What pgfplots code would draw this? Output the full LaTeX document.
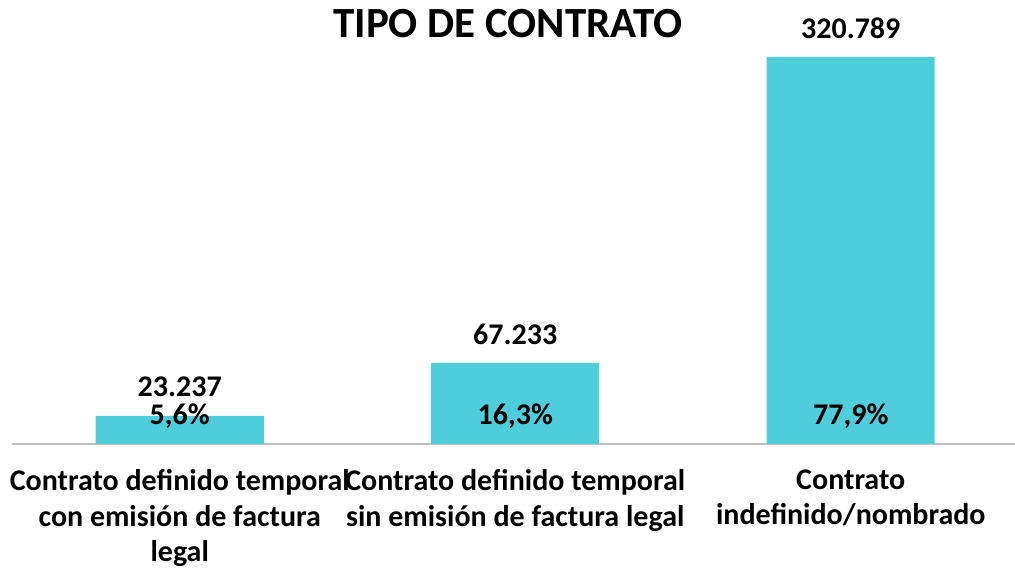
\documentclass[border=0pt]{standalone}
\usepackage{pgfplots}
\pgfplotsset{compat=1.18}
\usepackage{fontspec}
\setmainfont{Carlito}
\definecolor{barc}{RGB}{78,205,219}
\definecolor{axc}{RGB}{191,191,191}
\begin{document}
\begin{tikzpicture}
\useasboundingbox (-12pt,-125pt) rectangle (1003pt,444pt);
\begin{axis}[
  at={(0pt,0pt)}, anchor=south west,
  scale only axis,
  width=1006.5pt, height=444pt,
  xmin=-0.5, xmax=2.5, ymin=0, ymax=368040,
  axis y line=none,
  axis x line*=bottom,
  x axis line style={draw=axc, line width=1.5pt, -},
  xtick=data,
  xtick style={draw=none},
  xticklabels={{Contrato definido temporal\\con emisión de factura\\legal},{Contrato definido temporal\\sin emisión de factura legal},{Contrato\\indefinido/nombrado}},
  xticklabel style={align=center, anchor=north, yshift=-18pt, font=\fontsize{30}{35.5}\selectfont\bfseries},
  ybar, bar width=168pt,
  nodes near coords,
  point meta=explicit symbolic,
  every node near coord/.append style={anchor=center, yshift=29pt, font=\fontsize{30}{36}\selectfont\bfseries, text=black},
  clip=false,
]
\addplot[fill=barc, draw=none] coordinates {(0,23237) [23.237] (1,67233) [67.233] (2,320789) [320.789]};
\node[font=\fontsize{30}{36}\selectfont\bfseries] at (axis cs:0,0) [yshift=28pt] {5,6\%};
\node[font=\fontsize{30}{36}\selectfont\bfseries] at (axis cs:1,0) [yshift=28pt] {16,3\%};
\node[font=\fontsize{30}{36}\selectfont\bfseries] at (axis cs:2,0) [yshift=28pt] {77,9\%};
\end{axis}
\node[font=\fontsize{43}{52}\selectfont\bfseries] at (496pt,420pt) {TIPO DE CONTRATO};
\end{tikzpicture}
\end{document}
